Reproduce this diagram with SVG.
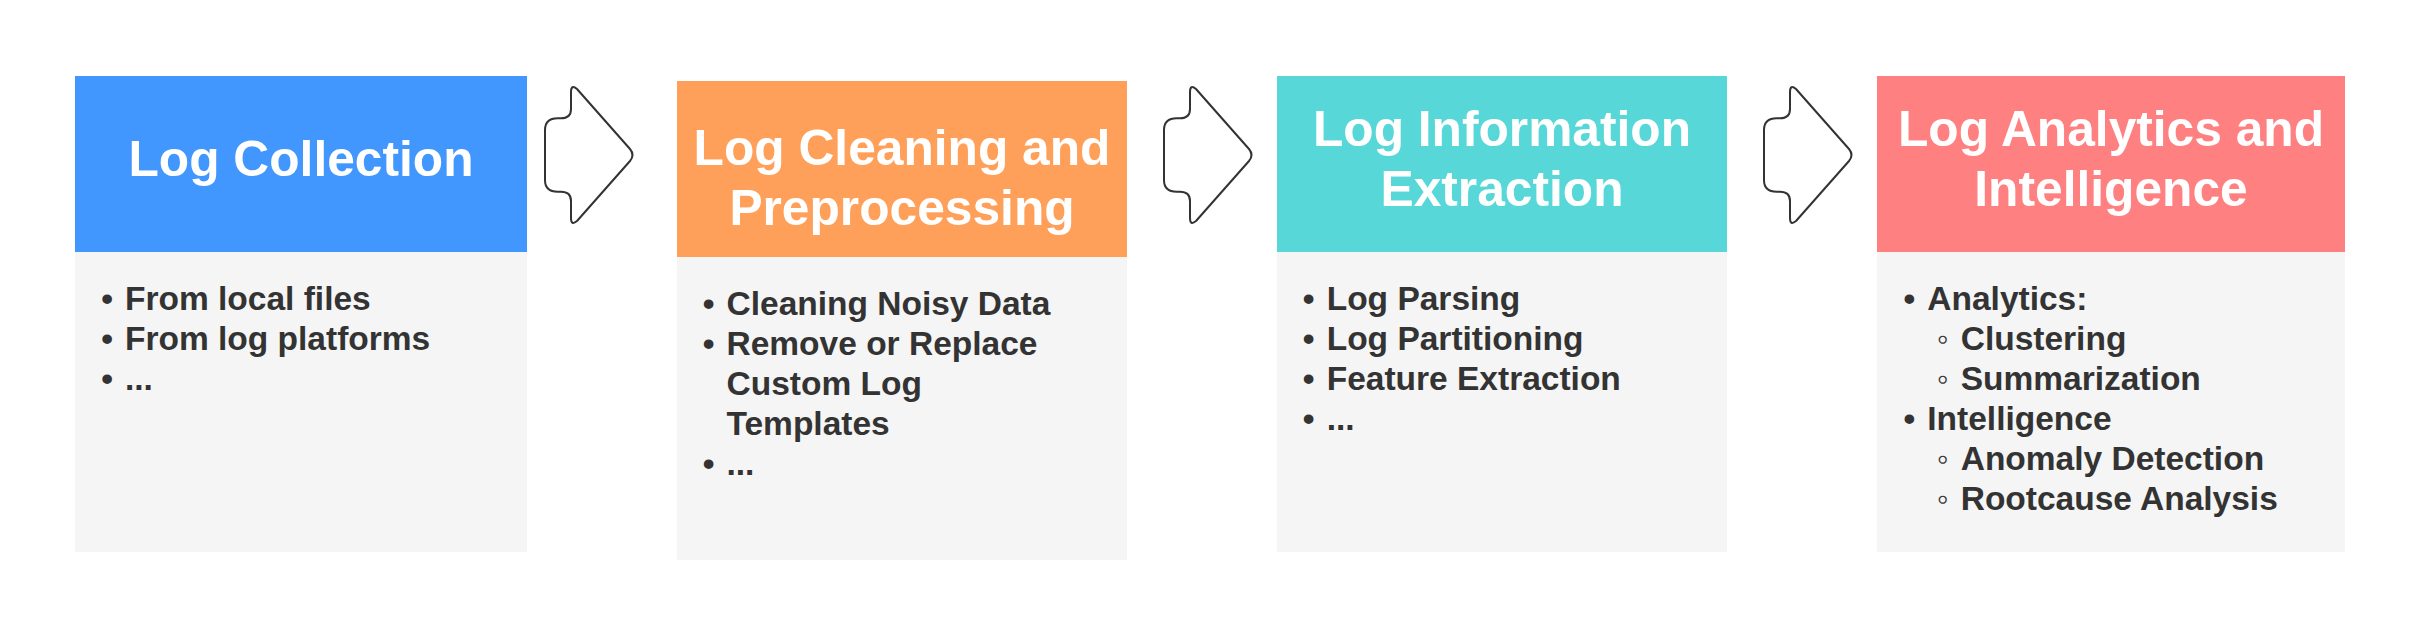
<svg xmlns="http://www.w3.org/2000/svg" width="2421" height="634" viewBox="0 0 2421 634">
  <style>
    .title { font-family: "Liberation Sans", Arial, sans-serif; font-weight: bold; font-size: 49.7px; fill: #ffffff; text-anchor: middle; }
    .item { font-family: "Liberation Sans", Arial, sans-serif; font-weight: bold; font-size: 33.5px; fill: #333333; }
    .bul { font-family: "Liberation Sans", Arial, sans-serif; font-weight: bold; font-size: 33.5px; fill: #333333; text-anchor: middle; }
    .sub { font-family: "Liberation Sans", "DejaVu Sans", sans-serif; font-weight: bold; font-size: 33.5px; fill: #333333; text-anchor: middle; }
    .body { fill: #f5f5f5; }
    .arrow { fill: #ffffff; stroke: #333333; stroke-width: 2; stroke-linejoin: round; }
  </style>
  <defs>
    <path id="blockArrow" d="M 0,-25 Q 0,-36.7 12.7,-36.7 L 16,-36.7 C 23,-36.7 26,-40 26,-46 L 26,-63 Q 26,-71 32,-66 L 85,-6 Q 90,0 85,6 L 32,66 Q 26,71 26,63 L 26,46 C 26,40 23,36.7 16,36.7 L 12.7,36.7 Q 0,36.7 0,25 Z"/>
  </defs>
  <rect width="2421" height="634" fill="#ffffff"/>

  <g id="node-log-collection">
    <rect class="body" x="75" y="252" width="452" height="300"/>
    <rect x="75" y="76" width="452" height="176" fill="#4297ff"/>
    <text class="title" x="301" y="176">Log Collection</text>
    <text class="bul" x="107" y="309.5">•</text>
    <text class="item" x="125" y="309.5">From local files</text>
    <text class="bul" x="107" y="349.5">•</text>
    <text class="item" x="125" y="349.5">From log platforms</text>
    <text class="bul" x="107" y="389.5">•</text>
    <text class="item" x="125" y="389.5">...</text>
  </g>

  <g id="node-log-cleaning">
    <rect class="body" x="677" y="257" width="450" height="303"/>
    <rect x="677" y="81" width="450" height="176" fill="#ffa05a"/>
    <text class="title" x="902" y="165">Log Cleaning and</text>
    <text class="title" x="902" y="225">Preprocessing</text>
    <text class="bul" x="708.5" y="314.5">•</text>
    <text class="item" x="726.5" y="314.5">Cleaning Noisy Data</text>
    <text class="bul" x="708.5" y="354.5">•</text>
    <text class="item" x="726.5" y="354.5">Remove or Replace</text>
    <text class="item" x="726.5" y="394.5">Custom Log</text>
    <text class="item" x="726.5" y="434.5">Templates</text>
    <text class="bul" x="708.5" y="474.5">•</text>
    <text class="item" x="726.5" y="474.5">...</text>
  </g>

  <g id="node-log-information-extraction">
    <rect class="body" x="1277" y="252" width="450" height="300"/>
    <rect x="1277" y="76" width="450" height="176" fill="#58d7d8"/>
    <text class="title" x="1502" y="145.7">Log Information</text>
    <text class="title" x="1502" y="205.7">Extraction</text>
    <text class="bul" x="1308.7" y="309.5">•</text>
    <text class="item" x="1326.7" y="309.5">Log Parsing</text>
    <text class="bul" x="1308.7" y="349.5">•</text>
    <text class="item" x="1326.7" y="349.5">Log Partitioning</text>
    <text class="bul" x="1308.7" y="389.5">•</text>
    <text class="item" x="1326.7" y="389.5">Feature Extraction</text>
    <text class="bul" x="1308.7" y="429.5">•</text>
    <text class="item" x="1326.7" y="429.5">...</text>
  </g>

  <g id="node-log-analytics">
    <rect class="body" x="1877" y="252" width="468" height="300"/>
    <rect x="1877" y="76" width="468" height="176" fill="#ff8080"/>
    <text class="title" x="2111" y="145.7">Log Analytics and</text>
    <text class="title" x="2111" y="205.7">Intelligence</text>
    <text class="bul" x="1909.3" y="309.5">•</text>
    <text class="item" x="1927.3" y="309.5">Analytics:</text>
    <text class="sub" x="1942.7" y="349.5">◦</text>
    <text class="item" x="1960.7" y="349.5">Clustering</text>
    <text class="sub" x="1942.7" y="389.5">◦</text>
    <text class="item" x="1960.7" y="389.5">Summarization</text>
    <text class="bul" x="1909.3" y="429.5">•</text>
    <text class="item" x="1927.3" y="429.5">Intelligence</text>
    <text class="sub" x="1942.7" y="469.5">◦</text>
    <text class="item" x="1960.7" y="469.5">Anomaly Detection</text>
    <text class="sub" x="1942.7" y="509.5">◦</text>
    <text class="item" x="1960.7" y="509.5">Rootcause Analysis</text>
  </g>

  <g id="connectors">
    <use href="#blockArrow" class="arrow" transform="translate(545,155)"/>
    <use href="#blockArrow" class="arrow" transform="translate(1164,155)"/>
    <use href="#blockArrow" class="arrow" transform="translate(1764,155)"/>
  </g>
</svg>
